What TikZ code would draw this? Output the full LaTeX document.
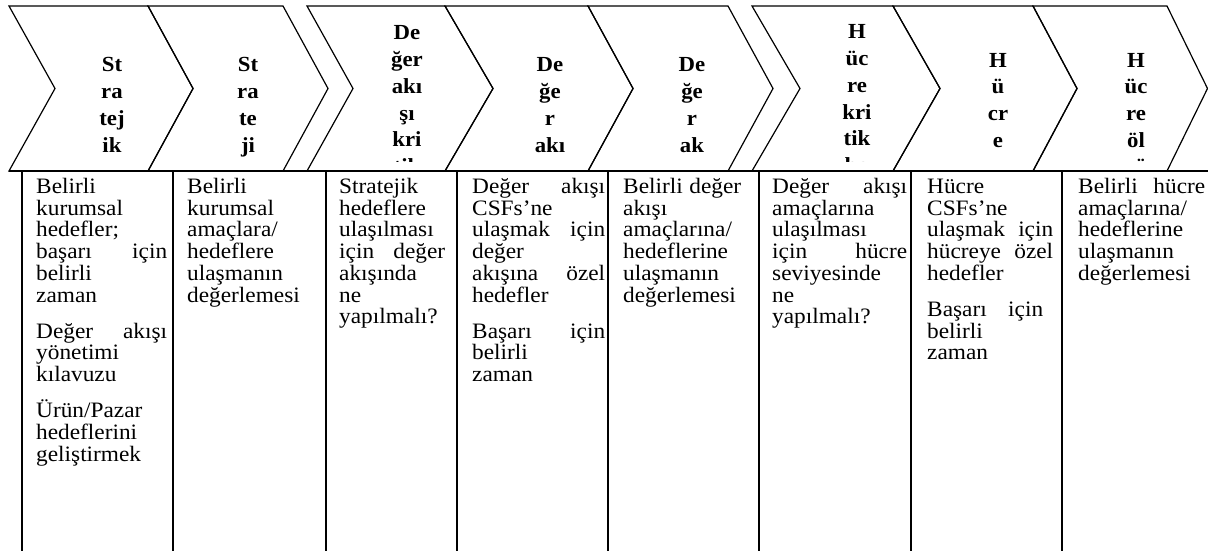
\documentclass[tikz,border=0pt]{standalone}
\usepackage{fontspec}
\setmainfont{Liberation Serif}[FakeStretch=1.06]
\tikzset{
  chev/.style={draw=black, line width=1.2pt, line join=miter},
  grid/.style={draw=black, line width=1.8pt},
  topline/.style={draw=black, line width=1.4pt},
  head/.style={anchor=base, inner sep=0pt, text width=80pt, align=center,
    font={\fontsize{21.5}{26.7}\selectfont\bfseries\lineskiplimit=-100pt}},
  body/.style={anchor=base west, inner sep=0pt, align=left, text width=160pt,
    font={\fontsize{22}{21.7}\selectfont\lineskiplimit=-100pt}},
}
\newcommand\jst[2]{\makebox[#1pt][s]{#2}}
\newcommand\chevpath[4]{% xl xr notchdepth tipdepth
  \draw[chev] (#1,6) -- (#2,6) -- (#2+#4,88.5) -- (#2,171) -- (#1,171) -- (#1+#3,88.5) -- cycle;}
\begin{document}
\begin{tikzpicture}[x=1pt,y=-1pt]
\useasboundingbox (0,0) rectangle (1208,551);
\fill[white] (0,0) rectangle (1208,551);

% chevrons
\chevpath{9}{148}{46}{45}
\chevpath{148}{283}{45}{45}
\chevpath{307}{445}{46}{48}
\chevpath{445}{588}{48}{45}
\chevpath{588}{728}{45}{45}
\chevpath{752}{893}{48}{47}
\chevpath{893}{1033}{47}{44}
\chevpath{1033}{1167}{44}{40.5}

% table
\draw[topline] (9,171) -- (1208,171);
\foreach \xx in {22,173,326,457,608,759,911,1062}{
  \draw[grid] (\xx,171) -- (\xx,551);
}

% headers
\begin{scope}
\clip (0,0) rectangle (1208,161.5);
\node[head] (h1) at (112,72) {St\\ra\\tej\\ik};
\node[head] (h2) at (248,72) {St\\ra\\te\\ji};
\node[head] (h3) at (407,40) {De\\ğer\\akı\\şı\\kri\\tik};
\node[head] (h4) at (550,72) {De\\ğe\\r\\akı};
\node[head] (h5) at (692,72) {De\\ğe\\r\\ak};
\node[head] (h6) at (857,39) {H\\üc\\re\\kri\\tik\\ba};
\node[head] (h7) at (998,67) {H\\ü\\cr\\e};
\node[head] (h8) at (1136,67) {H\\üc\\re\\öl\\çü};
\end{scope}

% cells
\node[body] (c1) at (36,193.5) {Belirli\\kurumsal\\hedefler;\\\jst{131}{başarı\hfill için}\\belirli\\zaman\\[14.5pt]\jst{131}{Değer\hfill akışı}\\yönetimi\\kılavuzu\\[14.5pt]Ürün/Pazar\\hedeflerini\\geliştirmek};
\node[body] (c2) at (187,193.5) {Belirli\\kurumsal\\amaçlara/\\hedeflere\\ulaşmanın\\değerlemesi};
\node[body] (c3) at (339,193.5) {Stratejik\\hedeflere\\ulaşılması\\\jst{106}{için\hfill değer}\\akışında\\ne\\yapılmalı?};
\node[body] (c4) at (472,193.5) {\jst{133}{Değer\hfill akışı}\\CSFs’ne\\\jst{133}{ulaşmak\hfill için}\\değer\\\jst{133}{akışına\hfill özel}\\hedefler\\[14.5pt]\jst{133}{Başarı\hfill için}\\belirli\\zaman};
\node[body] (c5) at (623,193.5) {\jst{118}{Belirli\hfill değer}\\akışı\\amaçlarına/\\hedeflerine\\ulaşmanın\\değerlemesi};
\node[body] (c6) at (772,193.5) {\jst{135}{Değer\hfill akışı}\\amaçlarına\\ulaşılması\\\jst{135}{için\hfill hücre}\\seviyesinde\\ne\\yapılmalı?};
\node[body] (c7) at (927,193.5) {Hücre\\CSFs’ne\\\jst{126}{ulaşmak\hfill için}\\\jst{126}{hücreye\hfill özel}\\hedefler\\[14.5pt]\jst{116}{Başarı\hfill için}\\belirli\\zaman};
\node[body] (c8) at (1078,193.5) {\jst{127}{Belirli\hfill hücre}\\amaçlarına/\\hedeflerine\\ulaşmanın\\değerlemesi};
\end{tikzpicture}
\end{document}
